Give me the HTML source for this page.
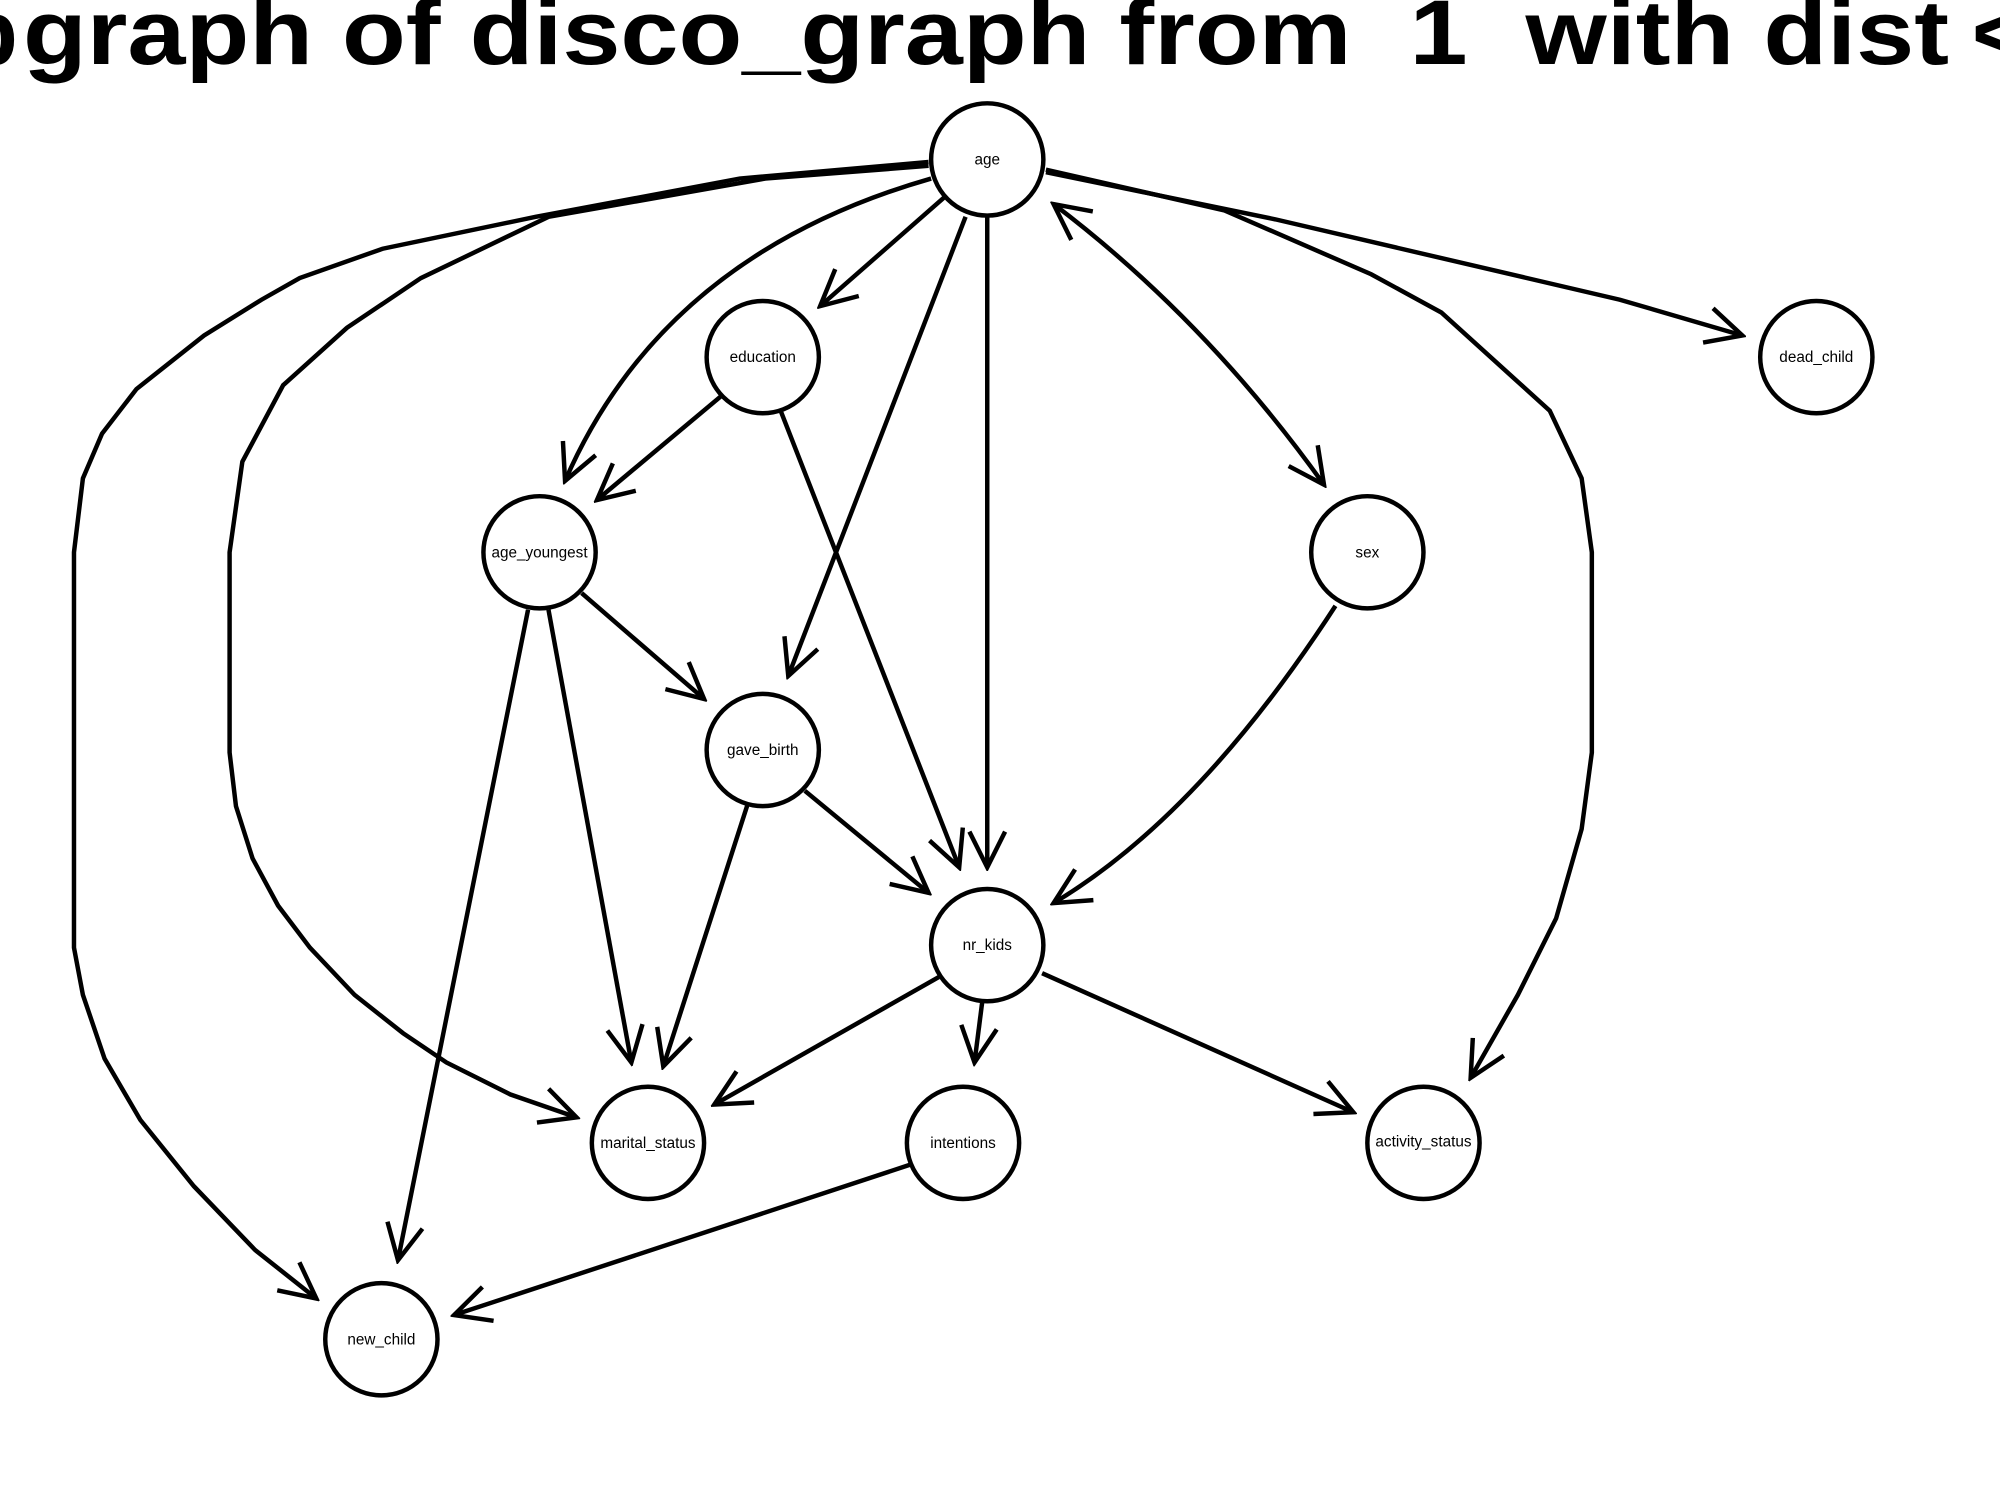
<!DOCTYPE html>
<html><head><meta charset="utf-8"><style>html,body{margin:0;padding:0;background:#fff}svg{display:block}</style></head>
<body>
<svg width="2000" height="1500" viewBox="0 0 1568 1176" preserveAspectRatio="none" xmlns="http://www.w3.org/2000/svg">
<defs>
<marker id="a" markerUnits="userSpaceOnUse" markerWidth="34" markerHeight="34" viewBox="0 0 34 34" refX="31" refY="17" orient="auto-start-reverse">
<path d="M3,3 L31,17 L3,31" fill="none" stroke="#000" stroke-width="3.5"/>
</marker>
</defs>
<rect width="1568" height="1176" fill="#fff"/>
<g font-family="Liberation Sans, sans-serif" font-weight="bold" font-size="72">
<text x="-30" y="50">b</text>
<text x="18" y="50" textLength="1510" lengthAdjust="spacingAndGlyphs" xml:space="preserve">graph of disco_graph from  1  with dist</text>
<text x="1546" y="50">&lt;</text>
</g>
<g fill="none" stroke="#000" stroke-width="3.5" marker-end="url(#a)">
<line x1="740" y1="155" x2="643" y2="240"/>
<path d="M730,140 Q520,200 443,377"/>
<line x1="757" y1="170" x2="618" y2="530"/>
<line x1="774" y1="170" x2="774" y2="680"/>
<path d="M826,160 Q945,250 1038,380" marker-start="url(#a)"/>
<polyline points="820,135 1000,172 1270,235 1366,263"/>
<polyline points="820,133 960,165 1075,215 1130,245 1215,322 1240,375 1248,433 1248,590 1240,650 1220,720 1190,780 1153,845"/>
<polyline points="728,130 600,140 430,170 330,218 272,257 222,302 190,362 180,433 180,590 185,632 198,673 218,710 243,743 278,780 316,810 350,833 400,858 452,876"/>
<polyline points="728,127 580,140 420,170 300,195 235,218 205,235 160,263 107,305 80,340 65,375 58,433 58,743 65,780 82,830 110,878 152,930 200,980 248,1018"/>
<line x1="566" y1="310" x2="468" y2="392"/>
<line x1="612" y1="322" x2="752" y2="680"/>
<line x1="456" y1="465" x2="552" y2="548"/>
<line x1="430" y1="478" x2="495" y2="833"/>
<line x1="414" y1="478" x2="312" y2="988"/>
<line x1="586" y1="631" x2="520" y2="836"/>
<line x1="631" y1="620" x2="728" y2="700"/>
<path d="M1047,475 Q940,640 826,708"/>
<line x1="736" y1="766" x2="560" y2="866"/>
<line x1="770" y1="786" x2="764" y2="833"/>
<line x1="817" y1="763" x2="1061" y2="872"/>
<line x1="714" y1="913" x2="356" y2="1031"/>
</g>
<g fill="#fff" stroke="#000" stroke-width="3.5">
<circle cx="774" cy="125" r="44"/>
<circle cx="598" cy="280" r="44"/>
<circle cx="423" cy="433" r="44"/>
<circle cx="598" cy="588" r="44"/>
<circle cx="774" cy="741" r="44"/>
<circle cx="1072" cy="433" r="44"/>
<circle cx="1424" cy="280" r="44"/>
<circle cx="508" cy="896" r="44"/>
<circle cx="755" cy="896" r="44"/>
<circle cx="1116" cy="896" r="44"/>
<circle cx="299" cy="1050" r="44"/>
</g>
<g font-family="Liberation Sans, sans-serif" font-size="12" text-anchor="middle" fill="#000">
<text x="774" y="129">age</text>
<text x="598" y="284">education</text>
<text x="423" y="437">age_youngest</text>
<text x="598" y="592">gave_birth</text>
<text x="774" y="745">nr_kids</text>
<text x="1072" y="437">sex</text>
<text x="1424" y="284">dead_child</text>
<text x="508" y="900">marital_status</text>
<text x="755" y="900">intentions</text>
<text x="1116" y="899">activity_status</text>
<text x="299" y="1054">new_child</text>
</g>
</svg>
</body></html>
